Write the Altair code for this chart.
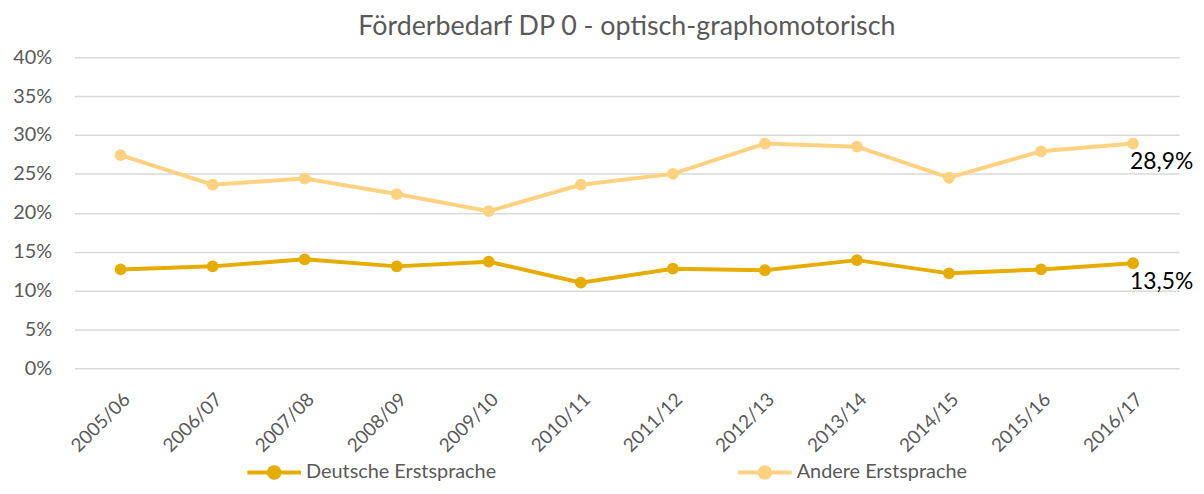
import altair as alt
import pandas as pd

years = ["2005/06", "2006/07", "2007/08", "2008/09", "2009/10", "2010/11",
         "2011/12", "2012/13", "2013/14", "2014/15", "2015/16", "2016/17"]
deutsche = [12.7, 13.1, 14.0, 13.1, 13.7, 11.0, 12.8, 12.6, 13.9, 12.2, 12.7, 13.5]
andere = [27.4, 23.6, 24.4, 22.4, 20.2, 23.6, 25.0, 28.9, 28.5, 24.5, 27.9, 28.9]
series = ["Deutsche Erstsprache", "Andere Erstsprache"]
colors = ["#E6AC00", "#FFD281"]

rows = []
for name, vals in zip(series, [deutsche, andere]):
    for i, (y, v) in enumerate(zip(years, vals)):
        rows.append({"Jahr": y, "Serie": name, "Wert": v / 100,
                     "Label": (f"{v:.1f}%".replace(".", ",")) if i == len(years) - 1 else ""})
df = pd.DataFrame(rows)

FONT = "Lato"
GRAY = "#595959"

legend_symbol = ("M-1,-0.075 L1,-0.075 L1,0.075 L-1,0.075 Z "
                 "M-0.27,0 A0.27,0.27 0 1 1 0.27,0 A0.27,0.27 0 1 1 -0.27,0 Z")

color = alt.Color(
    "Serie:N",
    scale=alt.Scale(domain=series, range=colors),
    sort=series,
    legend=alt.Legend(
        title=None, orient="none", direction="horizontal",
        legendX=174, legendY=391, columns=2, columnPadding=243,
        symbolType=legend_symbol, symbolSize=2916, symbolStrokeWidth=0,
        labelFont=FONT, labelFontSize=20, labelColor=GRAY, labelOffset=5,
        labelLimit=400,
    ),
)

x = alt.X("Jahr:N", sort=years, title=None,
          scale=alt.Scale(paddingInner=0, paddingOuter=0.5),
          axis=alt.Axis(labelAngle=-45, labelAlign="right", labelBaseline="middle",
                        labelFont=FONT, labelFontSize=19,
                        labelColor=GRAY, domain=False, ticks=False,
                        labelPadding=28, labelOffset=6, grid=False))
y = alt.Y("Wert:Q", title=None,
          scale=alt.Scale(domain=[0, 0.4], nice=False),
          axis=alt.Axis(values=[i * 0.05 for i in range(9)], format=".0%",
                        labelFont=FONT, labelFontSize=20, labelColor=GRAY,
                        domain=False, ticks=False, labelPadding=23,
                        gridColor="#D9D9D9", gridWidth=1.5))

base = alt.Chart(df)
lines = base.mark_line(strokeWidth=4).encode(x=x, y=y, color=color)
points = base.mark_circle(size=140, opacity=1).encode(x=x, y=y, color=color)
labels = base.mark_text(align="left", baseline="middle", dx=-3, dy=19,
                        font=FONT, fontSize=23, color="#000000").encode(
    x=x, y=y, text="Label:N")

chart = alt.layer(lines, points, labels).properties(
    width=1112, height=313,
    autosize=alt.AutoSizeParams(type="none"),
    padding={"left": 67, "top": 48, "right": 17, "bottom": 116},
    title=alt.TitleParams("Förderbedarf DP 0 - optisch-graphomotorisch",
                          font=FONT, fontSize=27, fontWeight="normal",
                          color=GRAY, anchor="middle", offset=6),
).configure_view(stroke=None)

chart.save("out.html", embed_options={"renderer": "svg", "actions": False})
